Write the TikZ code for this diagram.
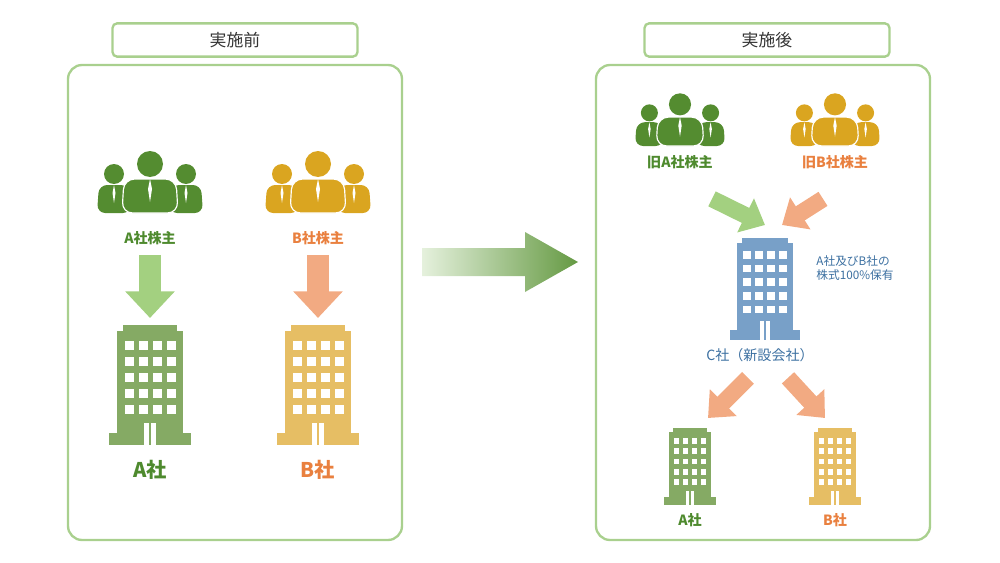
\documentclass[tikz,border=0pt]{standalone}
\usepackage{fontspec}
\setmainfont{Noto Sans CJK JP}
\usetikzlibrary{arrows.meta,calc}
\definecolor{FrameClr}{RGB}{169,208,142}
\definecolor{PplGreen}{RGB}{84,140,48}
\definecolor{PplGold}{RGB}{218,165,32}
\definecolor{TxtGreen}{RGB}{78,138,46}
\definecolor{TxtOrange}{RGB}{233,128,63}
\definecolor{TxtBlue}{RGB}{59,111,160}
\definecolor{BldGreen}{RGB}{133,170,100}
\definecolor{BldGold}{RGB}{230,190,100}
\definecolor{BldBlue}{RGB}{120,160,200}
\definecolor{ArrGreen}{RGB}{163,208,128}
\definecolor{ArrSalmon}{RGB}{242,170,130}

% building: center x, base y, scale, colour
\newcommand{\drawbuilding}[4]{%
  \begin{scope}[shift={(#1,#2)},scale=#3]
    \fill[#4] (-27,-120) rectangle (27,-113);
    \fill[#4] (-33,-114) rectangle (33,-11);
    \fill[#4] (-41,-12) rectangle (41,0);
    \fill[white] (-6,-22) rectangle (6,0);
    \fill[#4] (-1,-22) rectangle (1,0);
    \foreach \wx in {-21,-7,7,21}
      \foreach \wy in {-100,-84,-68,-52,-36}
        \fill[white] (\wx-4.5,\wy-4.5) rectangle (\wx+4.5,\wy+4.5);
  \end{scope}}
% three shareholders: center x, base y, scale, colour
\newcommand{\drawpeople}[4]{%
  \begin{scope}[shift={(#1,#2)},scale=#3]
    \foreach \sx in {-36,36}{
      \fill[#4,rounded corners=7] (\sx-17,0) -- (\sx-15,-28) -- (\sx+15,-28) -- (\sx+17,0) -- cycle;
      \fill[#4] (\sx,-39) circle (10);
      \fill[white] (\sx,-28) -- (\sx-1.5,-20) -- (\sx,-10) -- (\sx+1.5,-20) -- cycle;}
    \filldraw[#4,draw=white,line width=1pt,rounded corners=9] (-28,0) -- (-26,-34) -- (26,-34) -- (28,0) -- cycle;
    \fill[#4] (0,-49) circle (13);
    \fill[white] (0,-34) -- (-2,-24) -- (0,-11) -- (2,-24) -- cycle;
  \end{scope}}

\tikzset{
  frame/.style={draw=FrameClr,line width=2pt,rounded corners=12pt},
  tbox/.style={draw=FrameClr,line width=2pt,rounded corners=4pt,minimum width=7.35cm,minimum height=1.0cm,font=\Large,text=black!80},
  fat/.style={line width=0.66cm,-{Triangle[width=1.44cm,length=0.8cm]}},
  thin/.style={line width=0.5cm,-{Triangle[width=1.1cm,length=0.65cm]}},
  lbl/.style={font=\bfseries\large},
  big/.style={font=\bfseries\LARGE},
  sml/.style={font=\normalsize,text=TxtBlue}
}

\begin{document}
\begin{tikzpicture}[x=0.03cm,y=-0.03cm]
\useasboundingbox (0,0) rectangle (1000,563);

% panels
\draw[frame] (68,65) rectangle (402,540);
\draw[frame] (596,65) rectangle (930,540);
\node[tbox] (before) at (235,40) {実施前};
\node[tbox] (after) at (767,40) {実施後};

% before
\drawpeople{150}{213}{1}{PplGreen}
\drawpeople{318}{213}{1}{PplGold}
\node[lbl,text=TxtGreen] (shA) at (150,238) {A社株主};
\node[lbl,text=TxtOrange] (shB) at (318,238) {B社株主};
\drawbuilding{150}{445}{1}{BldGreen}
\drawbuilding{318}{445}{1}{BldGold}
\coordinate (bA) at (150,318);
\coordinate (bB) at (318,318);
\node[big,text=TxtGreen] (coA) at (150,470) {A社};
\node[big,text=TxtOrange] (coB) at (318,470) {B社};
\draw[fat,ArrGreen] (shA.south) ++(0,6) -- (bA);
\draw[fat,ArrSalmon] (shB.south) ++(0,6) -- (bB);

% transition
\shade[left color=FrameClr!30,right color=PplGreen!80!FrameClr]
  (422,248) -- (525,248) -- (525,232) -- (578,262) -- (525,292) -- (525,276) -- (422,276) -- cycle;

% after
\drawpeople{680}{146}{0.85}{PplGreen}
\drawpeople{835}{146}{0.85}{PplGold}
\node[lbl,text=TxtGreen] (oldA) at (680,162) {旧A社株主};
\node[lbl,text=TxtOrange] (oldB) at (835,162) {旧B社株主};
\drawbuilding{765}{340}{0.85}{BldBlue}
\coordinate (cTopL) at (765,225);
\coordinate (cTopR) at (782,225);
\node[sml,align=left] (hold) at (855,268) {A社及びB社の\\株式100\%保有};
\node[sml,font=\large] (coC) at (760,355) {C社（新設会社）};
\draw[thin,ArrGreen] (oldA.south) ++(32,26) -- (cTopL);
\draw[thin,ArrSalmon] (oldB.south) ++(-12,26) -- (cTopR);
\drawbuilding{690}{505}{0.64}{BldGreen}
\drawbuilding{835}{505}{0.64}{BldGold}
\coordinate (aTop) at (708,418);
\coordinate (bTop) at (825,418);
\draw[thin,ArrSalmon] (coC.south) ++(-12,12) -- (aTop);
\draw[thin,ArrSalmon] (coC.south) ++(28,12) -- (bTop);
\node[lbl,text=TxtGreen] (newA) at (690,520) {A社};
\node[lbl,text=TxtOrange] (newB) at (835,520) {B社};
\end{tikzpicture}
\end{document}
